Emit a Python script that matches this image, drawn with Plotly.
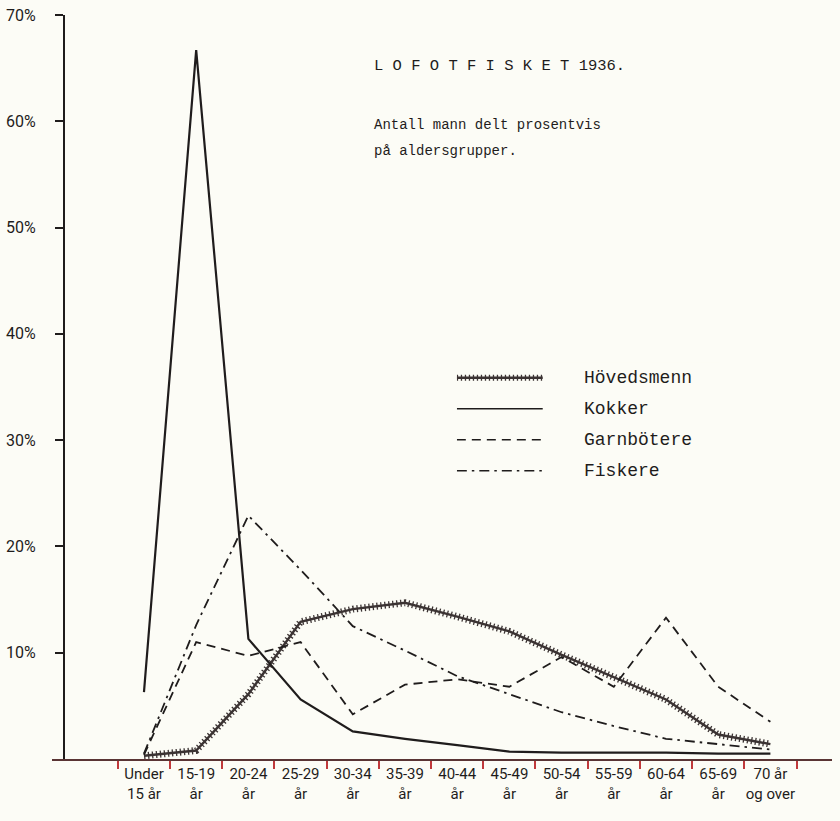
import plotly.graph_objects as go

categories = ["Under 15 år", "15-19 år", "20-24 år", "25-29 år", "30-34 år", "35-39 år",
              "40-44 år", "45-49 år", "50-54 år", "55-59 år", "60-64 år", "65-69 år", "70 år og over"]
tick_labels = ["Under<br>15 år", "15-19<br>år", "20-24<br>år", "25-29<br>år", "30-34<br>år", "35-39<br>år",
               "40-44<br>år", "45-49<br>år", "50-54<br>år", "55-59<br>år", "60-64<br>år", "65-69<br>år", "70 år<br>og over"]

hovedsmenn = [0.3, 0.8, 6.1, 12.9, 14.1, 14.7, 13.4, 12.0, 9.8, 7.7, 5.6, 2.3, 1.4]
kokker     = [6.3, 66.7, 11.3, 5.6, 2.6, 1.9, 1.3, 0.7, 0.6, 0.6, 0.6, 0.5, 0.5]
garnbotere = [0.4, 11.0, 9.7, 11.0, 4.2, 7.0, 7.5, 6.8, 9.6, 6.8, 13.3, 6.8, 3.5]
fiskere    = [0.5, 12.6, 22.9, 17.8, 12.5, 10.2, 7.8, 6.1, 4.4, 3.1, 1.9, 1.4, 0.9]

y_ticks = [10, 20, 30, 40, 50, 60, 70]
y_ticktext = ["10%", "20%", "30%", "40%", "50%", "60%", "70%"]

legend_names = ["Hövedsmenn", "Kokker", "Garnbötere", "Fiskere"]
legend_rows = [3, 2, 1, 0]

INK = "#1f1c1c"
HOV = "#3b3333"
BG = "#fcfcf6"
MONO = "Liberation Mono, DejaVu Sans Mono, monospace"
HAND = "Roboto, Lato, sans-serif"

fig = go.Figure()

# Hövedsmenn: core line plus hatch overlay
fig.add_trace(go.Scatter(x=categories, y=hovedsmenn, mode="lines",
                         line=dict(color=HOV, width=2.4), showlegend=False, hoverinfo="skip"))
fig.add_trace(go.Scatter(x=categories, y=hovedsmenn, mode="lines",
                         line=dict(color=HOV, width=7, dash="1.3px,2.7px"), showlegend=False,
                         name="Hövedsmenn"))
fig.add_trace(go.Scatter(x=categories, y=kokker, mode="lines",
                         line=dict(color=INK, width=2.2), showlegend=False, name="Kokker"))
fig.add_trace(go.Scatter(x=categories, y=garnbotere, mode="lines",
                         line=dict(color=INK, width=1.8, dash="9px,6px"), showlegend=False, name="Garnbötere"))
fig.add_trace(go.Scatter(x=categories, y=fiskere, mode="lines",
                         line=dict(color=INK, width=1.8, dash="10px,5px,2.5px,5px"), showlegend=False, name="Fiskere"))

# Typewriter-style legend on its own small axes
styles = [dict(color=HOV, width=2.4), dict(color=INK, width=1.6),
          dict(color=INK, width=1.6, dash="9px,6px"), dict(color=INK, width=1.6, dash="10px,5px,2.5px,5px")]
for name, row, st in zip(legend_names, legend_rows, styles):
    fig.add_trace(go.Scatter(x=[0, 1], y=[row, row], mode="lines", line=st,
                             xaxis="x2", yaxis="y2", showlegend=False, hoverinfo="skip"))
    if name == "Hövedsmenn":
        fig.add_trace(go.Scatter(x=[0, 1], y=[row, row], mode="lines",
                                 line=dict(color=HOV, width=6, dash="1.3px,2.7px"),
                                 xaxis="x2", yaxis="y2", showlegend=False, hoverinfo="skip"))
    fig.add_annotation(x=1.46, y=row, xref="x2", yref="y2", text=name, showarrow=False,
                       xanchor="left", yanchor="middle", font=dict(family=MONO, size=18, color=INK))

# Titles
fig.add_annotation(x=0.410, y=0.9315, xref="paper", yref="paper", text="L O F O T F I S K E T 1936.",
                   showarrow=False, xanchor="left", yanchor="middle",
                   font=dict(family=MONO, size=15.5, color=INK))
fig.add_annotation(x=0.410, y=0.852, xref="paper", yref="paper", text="Antall mann delt prosentvis",
                   showarrow=False, xanchor="left", yanchor="middle",
                   font=dict(family=MONO, size=14, color=INK))
fig.add_annotation(x=0.410, y=0.817, xref="paper", yref="paper", text="på aldersgrupper.",
                   showarrow=False, xanchor="left", yanchor="middle",
                   font=dict(family=MONO, size=14, color=INK))

fig.update_layout(
    width=840, height=821,
    margin=dict(l=52, r=8, t=15, b=62, autoexpand=False),
    paper_bgcolor=BG, plot_bgcolor=BG,
    showlegend=False,
    xaxis=dict(type="category", categoryorder="array", categoryarray=categories,
               range=[-1.762, 13.18], tickson="boundaries",
               tickvals=categories, ticktext=tick_labels, tickangle=0, automargin=False,
               ticks="outside", ticklen=8, tickcolor="#c0393b", tickwidth=1.5,
               showline=True, linecolor="#5a3434", linewidth=2,
               showgrid=False, zeroline=False,
               tickfont=dict(family=HAND, size=15, color=INK)),
    yaxis=dict(range=[0, 70], tickvals=y_ticks, ticktext=y_ticktext, automargin=False,
               anchor="free", position=0.0154, side="left",
               ticks="outside", ticklen=8, tickcolor=INK, tickwidth=1.5,
               showline=True, linecolor=INK, linewidth=2.2,
               showgrid=False, zeroline=False, ticklabelstandoff=16,
               tickfont=dict(family=HAND, size=16, color=INK)),
    xaxis2=dict(domain=[0.519, 0.856], range=[0, 3.06], visible=False, anchor="y2"),
    yaxis2=dict(domain=[0.3667, 0.5332], range=[-0.5, 3.5], visible=False, anchor="x2"),
)

fig.write_html("out.html", config={"displayModeBar": False},
               post_script="document.body.style.margin='0';document.body.style.background='%s';" % BG)
